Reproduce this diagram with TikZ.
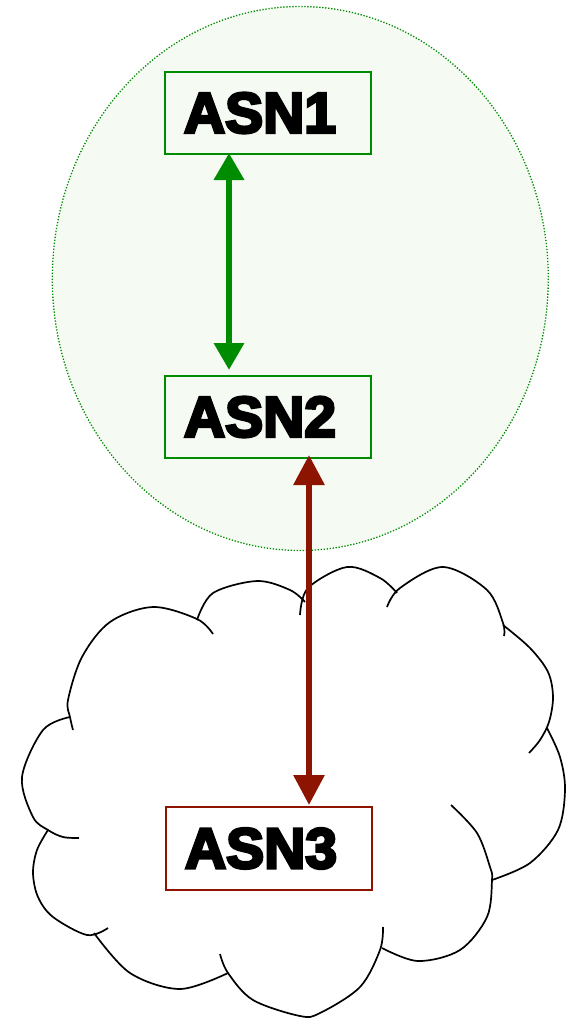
\documentclass[tikz,border=0pt]{standalone}
\usepackage{fontspec}
\newfontfamily\asnfont{Liberation Sans}[BoldFeatures={FakeBold=5}]
\usetikzlibrary{arrows.meta}
\definecolor{asngreen}{RGB}{0,140,0}
\definecolor{asnred}{RGB}{142,20,2}
\definecolor{zonefill}{RGB}{245,250,242}
\tikzset{
  asbox/.style={draw, line width=2pt, outer sep=0pt, inner xsep=19pt, inner ysep=0pt,
    text width=168pt, align=left, minimum height=82pt,
    font=\asnfont\bfseries\fontsize{57}{60}\selectfont, text=black},
  zone/.style={draw=asngreen, fill=zonefill, line width=1.3pt, dash pattern=on 1.3pt off 1.7pt},
  cloudline/.style={draw=black, line width=1.7pt, smooth, tension=0.55},
  garrow/.style={draw=asngreen, line width=6.5pt,
    {Triangle[width=29pt,length=27pt]}-{Triangle[width=29pt,length=27pt]}},
  rarrow/.style={draw=asnred, line width=6pt,
    {Triangle[width=30pt,length=30pt]}-{Triangle[width=30pt,length=30pt]}},
}
\begin{document}
\begin{tikzpicture}[x=1pt,y=-1pt]
\useasboundingbox (0,0) rectangle (566,1018);

% shaded zone around the first two systems
\draw[zone] (300.3,278.5) ellipse [x radius=248, y radius=272];

\node[asbox, draw=asngreen, fill=zonefill] (a1) at (268,113) {ASN1};
\node[asbox, draw=asngreen, fill=zonefill] (a2) at (268,417) {ASN2};

% cloud outline, one arc per lobe
\draw[cloudline] plot coordinates {(73,730) (70,717) (68,700) (82,657) (110,622) (153,607) (197,619) (213,634)};
\draw[cloudline] plot coordinates {(197,620) (213,593) (257,581) (290,590) (305,602)};
\draw[cloudline] plot coordinates {(300,615) (308,588) (347,567) (380,578) (397,593)};
\draw[cloudline] plot coordinates {(387,607) (400,588) (443,567) (487,590) (503,623) (504,636)};
\draw[cloudline] plot coordinates {(503,625) (530,648) (548,672) (553,697) (549,722) (540,740) (529,753)};
\draw[cloudline] plot coordinates {(547,728) (560,757) (565,790) (558,830) (530,863) (492,880)};
\draw[cloudline] plot coordinates {(451,805) (477,833) (490,867) (492,880) (487,917) (460,950) (418,961) (382,948)};
\draw[cloudline] plot coordinates {(383,927) (380,950) (360,987) (320,1013) (300,1016) (253,1000) (228,973) (220,954)};
\draw[cloudline] plot coordinates {(228,973) (180,989) (130,973) (94,933)};
\draw[cloudline] plot coordinates {(48,830) (37,850) (33,873) (38,897) (53,917) (87,935) (108,928)};
\draw[cloudline] plot coordinates {(70,717) (43,730) (22,777) (33,817) (48,830) (63,837) (79,838)};

\node[asbox, draw=asnred, fill=white, minimum height=83pt] (a3) at (269,848.5) {ASN3};

% links
\coordinate (gx) at (229,0);
\coordinate (rx) at (309,0);
\draw[garrow] ([yshift=1pt]a1.south -| gx) -- ([yshift=6pt]a2.north -| gx);
\draw[rarrow] ([yshift=3pt]a2.south -| rx) -- ([yshift=2pt]a3.north -| rx);
\end{tikzpicture}
\end{document}
